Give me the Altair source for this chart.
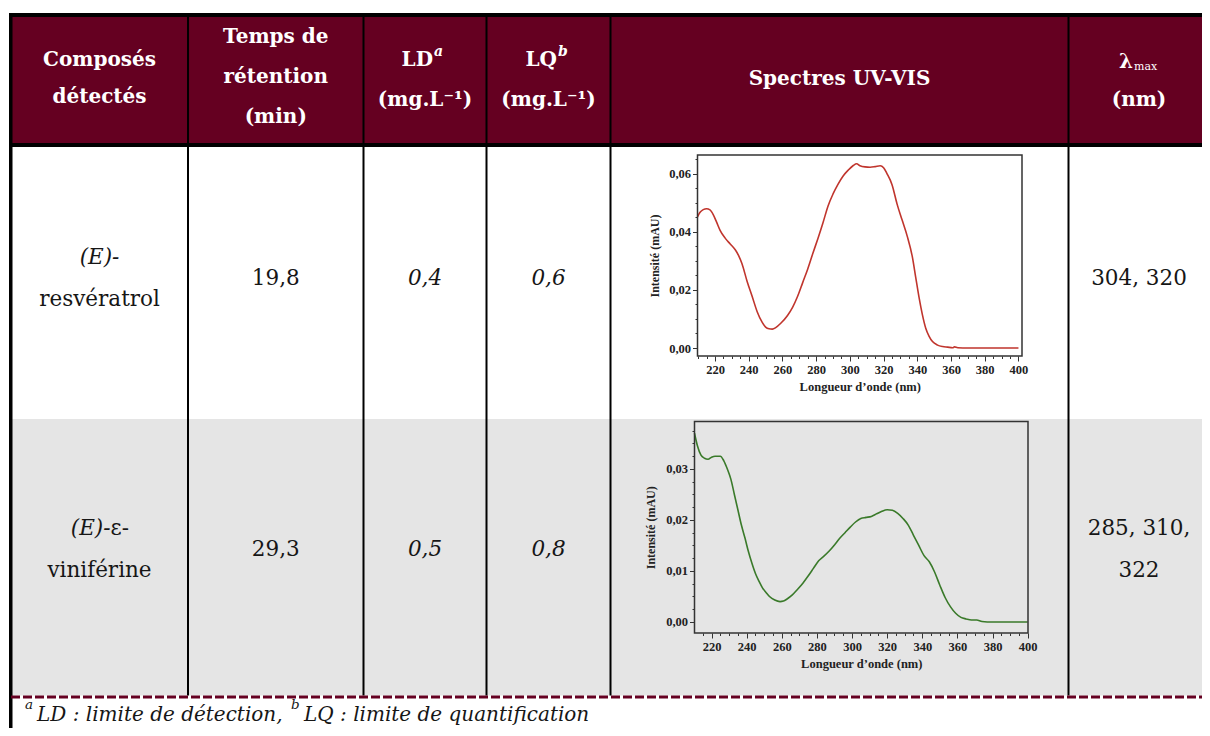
import altair as alt
import pandas as pd

# ---------------- data ----------------
compound_prefix = ["(E)-", "(E)-"]
compound_greek = ["", "ε-"]
compound_name = ["resvératrol", "viniférine"]
retention_min = ["19,8", "29,3"]
ld_values = ["0,4", "0,5"]
lq_values = ["0,6", "0,8"]
lambda_max = [["304, 320"], ["285, 310,", "322"]]

header_col1 = ["Composés", "détectés"]
header_col2 = ["Temps de", "rétention", "(min)"]
header_ld = ["LD", "a"]
header_lq = ["LQ", "b"]
header_units = "(mg.L⁻¹)"
header_spectra = "Spectres UV-VIS"
header_lambda = ["λ", "max", "(nm)"]
footnote_marks = ["a", "b"]
footnote_parts = ["LD : limite de détection,", "LQ : limite de quantification"]

x_title = "Longueur d’onde (nm)"
y_title = "Intensité (mAU)"

# (E)-resvératrol spectrum
res_nm = [209.6, 211, 213, 215, 217, 219, 221, 223, 226, 229, 232, 234, 236, 239, 242, 245, 248, 250,
          252, 254, 256, 259, 263, 266, 269, 272, 275, 278, 281, 284, 287, 290, 293, 296, 299, 302, 304, 306,
          309, 312, 315, 318, 320, 322, 325, 328, 331, 334, 337, 339, 341, 343, 345, 347, 349, 352, 355, 358,
          361, 362, 364, 370, 380, 390, 400]
res_int = [0.0451, 0.0466, 0.0476, 0.0479, 0.0475, 0.0458, 0.0432, 0.0405, 0.0378, 0.0358, 0.0338, 0.0318,
           0.0290, 0.0230, 0.0178, 0.0125, 0.0088, 0.0072, 0.0066, 0.0065, 0.0070, 0.0085, 0.0112, 0.0140,
           0.0178, 0.0225, 0.0272, 0.0325, 0.0376, 0.0430, 0.0488, 0.0530, 0.0564, 0.0592, 0.0612, 0.0628,
           0.0634, 0.0627, 0.0623, 0.0622, 0.0624, 0.0627, 0.0620, 0.0600, 0.0562, 0.0495, 0.0440, 0.0385,
           0.0315, 0.0245, 0.0175, 0.0115, 0.0068, 0.0040, 0.0022, 0.0010, 0.0005, 0.0003, 0.0001, 0.0004,
           0.0001, 0.0, 0.0, 0.0, 0.0]

# (E)-epsilon-viniferine spectrum
vin_nm = [210.3, 212, 214, 216, 218, 220, 222, 225, 227, 229, 231, 233, 235, 237, 239, 241, 243, 245, 247,
          249, 251, 253, 256, 259, 261, 263, 266, 269, 272, 275, 278, 281, 284, 287, 290, 293, 296, 299, 302,
          305, 308, 311, 314, 317, 320, 323, 326, 329, 332, 335, 338, 341, 344, 347, 350, 353, 356, 359, 362,
          365, 368, 371, 374, 380, 390, 400]
vin_int = [0.0370, 0.0345, 0.0327, 0.0321, 0.0319, 0.0323, 0.0325, 0.0325, 0.0316, 0.0300, 0.0280, 0.0250,
           0.0220, 0.0190, 0.0165, 0.0138, 0.0115, 0.0095, 0.0080, 0.0067, 0.0058, 0.0050, 0.0043, 0.0040,
           0.0041, 0.0045, 0.0053, 0.0064, 0.0076, 0.0090, 0.0105, 0.0120, 0.0129, 0.0139, 0.0151, 0.0164,
           0.0175, 0.0186, 0.0196, 0.0203, 0.0205, 0.0207, 0.0212, 0.0217, 0.0220, 0.0219, 0.0213, 0.0203,
           0.0190, 0.0170, 0.0150, 0.0130, 0.0118, 0.0098, 0.0072, 0.0048, 0.0030, 0.0017, 0.0009, 0.0006,
           0.0004, 0.0004, 0.0001, 0.0, 0.0, 0.0]

x_tick_values = list(range(210, 401, 5))
res_y_tick_values = [round(k * 0.005, 4) for k in range(0, 14)]
vin_y_tick_values = [round(k * 0.0025, 5) for k in range(0, 16)]

# ---------------- layout (page pixels) ----------------
W, H = 1194, 720
RIGHT = 8 + W
MAROON = "#650021"
GRAY = "#e5e5e5"
INK = "#161616"
SERIF = "DejaVu Serif"
PLOTFONT = "Liberation Serif"

PX = alt.Scale(domain=[8, 8 + W], range=[0, W], nice=False, zero=False)
PY = alt.Scale(domain=[8, 8 + H], range=[0, H], nice=False, zero=False)

col_lines = [188, 363.5, 486.5, 610.5, 1068.5]
col_centers = [99.5, 275.75, 425, 548.5, 839.5, 1139]
row_mid = [279, 550]
gap = 21


def rect_layer(rows):
    df = pd.DataFrame(rows, columns=["x", "x2", "y", "y2", "c"])
    return alt.Chart(df).mark_rect().encode(
        x=alt.X("x:Q", scale=PX, axis=None), x2="x2:Q",
        y=alt.Y("y:Q", scale=PY, axis=None), y2="y2:Q",
        color=alt.Color("c:N", scale=None),
    )


def rule_layer(rows, **kw):
    df = pd.DataFrame(rows, columns=["x", "x2", "y", "y2", "w"])
    return alt.Chart(df).mark_rule(**kw).encode(
        x=alt.X("x:Q", scale=PX, axis=None), x2="x2:Q",
        y=alt.Y("y:Q", scale=PY, axis=None), y2="y2:Q",
        strokeWidth=alt.StrokeWidth("w:Q", scale=None),
    )


def text_layer(rows, align="center", **kw):
    df = pd.DataFrame(rows, columns=["t", "x", "y"])
    return alt.Chart(df).mark_text(align=align, baseline="middle", **kw).encode(
        x=alt.X("x:Q", scale=PX, axis=None),
        y=alt.Y("y:Q", scale=PY, axis=None),
        text="t:N",
    )


backgrounds = rect_layer([
    [11, RIGHT, 15, 145, MAROON],
    [11, RIGHT, 419, 695.5, GRAY],
])

solid = [[9, RIGHT, 15, 15, 4], [9, RIGHT, 145, 145, 4], [10.75, 10.75, 13, 8 + H, 3.5]]
for cx in col_lines:
    solid.append([cx, cx, 15, 695.5, 2])
lines = rule_layer(solid, color="black")
dashed = rule_layer([[11, RIGHT, 697, 697, 3]], color=MAROON, strokeDash=[9, 3])

# header texts
hdr_center = []
hdr_center += [[t, col_centers[0], 60 + 37 * i] for i, t in enumerate(header_col1)]
hdr_center += [[t, col_centers[1], 37 + 40 * i] for i, t in enumerate(header_col2)]
hdr_center += [[header_units, col_centers[2], 100], [header_units, col_centers[3], 100]]
hdr_center += [[header_spectra, col_centers[4], 79], [header_lambda[2], col_centers[5], 100]]
hdr_bold = text_layer(hdr_center, font=SERIF, fontSize=20, fontWeight="bold", color="white")
hdr_right = text_layer([[header_ld[0], 433, 60], [header_lq[0], 557, 60], [header_lambda[0], 1133, 62]],
                       align="right", font=SERIF, fontSize=20, fontWeight="bold", color="white")
hdr_sup = text_layer([[header_ld[1], 434, 52], [header_lq[1], 558, 52]], align="left",
                     font=SERIF, fontSize=14, fontStyle="italic", fontWeight="bold", color="white")
hdr_sub = text_layer([[header_lambda[1], 1134, 67]], align="left", font=SERIF, fontSize=11, color="white")

# body texts
body_reg, body_ital, body_ital_r, body_reg_l = [], [], [], []
for r in range(2):
    m = row_mid[r]
    if compound_greek[r]:
        body_ital_r.append([compound_prefix[r], 110.5, m - gap])
        body_reg_l.append([compound_greek[r], 110.5, m - gap])
    else:
        body_ital.append([compound_prefix[r], col_centers[0], m - gap])
    body_reg.append([compound_name[r], col_centers[0], m + gap])
    body_reg.append([retention_min[r], col_centers[1], m])
    body_ital.append([ld_values[r], col_centers[2], m])
    body_ital.append([lq_values[r], col_centers[3], m])
    lam = lambda_max[r]
    if len(lam) == 1:
        body_reg.append([lam[0], col_centers[5], m])
    else:
        body_reg.append([lam[0], col_centers[5], m - gap])
        body_reg.append([lam[1], col_centers[5], m + gap])

BODY = 21.5
t_reg = text_layer(body_reg, font=SERIF, fontSize=BODY, color=INK)
t_ital = text_layer(body_ital, font=SERIF, fontSize=BODY, fontStyle="italic", color=INK)
t_ital_r = text_layer(body_ital_r, align="right", font=SERIF, fontSize=BODY, fontStyle="italic", color=INK)
t_reg_l = text_layer(body_reg_l, align="left", font=SERIF, fontSize=BODY, color=INK)

# footnote
foot_main = text_layer([[footnote_parts[0], 37, 715], [footnote_parts[1], 304, 715]], align="left",
                       font=SERIF, fontSize=20, fontStyle="italic", color=INK)
foot_sup = text_layer([[footnote_marks[0], 25, 705], [footnote_marks[1], 291, 705]], align="left",
                      font=SERIF, fontSize=13.5, fontStyle="italic", color=INK)

table = alt.layer(backgrounds, lines, dashed, hdr_bold, hdr_right, hdr_sup, hdr_sub,
                  t_reg, t_ital, t_ital_r, t_reg_l, foot_main, foot_sup)


def spectrum(nm, inten, color, xdom, ydom, xr, yr, yvals, major_test, y_title_pad):
    df = pd.DataFrame({"nm": nm, "i": inten})
    frame = pd.DataFrame({"nm": [xdom[0]], "nm2": [xdom[1]], "i": [ydom[0]], "i2": [ydom[1]]})
    xs = alt.Scale(domain=xdom, range=xr, nice=False, zero=False)
    ys = alt.Scale(domain=ydom, range=yr, nice=False, zero=False)
    xvals = [v for v in x_tick_values if xdom[0] <= v <= xdom[1]]
    xaxis = alt.Axis(
        orient="bottom", offset=yr[0] - H, values=xvals, grid=False, domain=False, zindex=1,
        tickColor="#333", tickWidth=1,
        tickSize={"condition": {"test": "datum.value % 20 === 0", "value": 5}, "value": 2.5},
        labelExpr="datum.value % 20 === 0 ? datum.value + '' : ''",
        labelFont=PLOTFONT, labelFontWeight="bold", labelFontSize=12.5, labelColor="#222",
        labelPadding=2, labelFlush=False, labelOverlap=False,
        title=x_title, titleFont=PLOTFONT, titleFontWeight="bold", titleFontSize=12.5,
        titleColor="#222", titlePadding=5,
    )
    yaxis = alt.Axis(
        orient="left", offset=-xr[0], values=yvals, grid=False, domain=False, zindex=1,
        tickColor="#333", tickWidth=1,
        tickSize={"condition": {"test": major_test, "value": 5}, "value": 2.5},
        labelExpr=major_test + " ? replace(format(datum.value, '.2f'), '.', ',') : ''",
        labelFont=PLOTFONT, labelFontWeight="bold", labelFontSize=12.5, labelColor="#222",
        labelPadding=2, labelFlush=False, labelOverlap=False,
        title=y_title, titleFont=PLOTFONT, titleFontWeight="bold", titleFontSize=12,
        titleColor="#222", titlePadding=y_title_pad,
    )
    line = alt.Chart(df).mark_line(color=color, strokeWidth=1.6, interpolate="monotone").encode(
        x=alt.X("nm:Q", scale=xs, axis=xaxis),
        y=alt.Y("i:Q", scale=ys, axis=yaxis),
    )
    box = alt.Chart(frame).mark_rect(fillOpacity=0, stroke="#333", strokeWidth=1.5).encode(
        x=alt.X("nm:Q", scale=xs, axis=xaxis), x2="nm2:Q",
        y=alt.Y("i:Q", scale=ys, axis=yaxis), y2="i2:Q",
    )
    return alt.layer(line, box)


spec_res = spectrum(res_nm, res_int, "#c0352d", [209.6, 402.1], [-0.00275, 0.0664],
                    [689.5, 1014], [348, 147], res_y_tick_values,
                    "round(datum.value * 1000) % 20 === 0", 7)
spec_vin = spectrum(vin_nm, vin_int, "#3a7a2a", [210.3, 400.2], [-0.00216, 0.0393],
                    [686.5, 1020], [625, 413.5], vin_y_tick_values,
                    "round(datum.value * 10000) % 100 === 0", 8)

chart = alt.layer(table, spec_res, spec_vin).resolve_scale(
    x="independent", y="independent"
).properties(
    width=W, height=H, padding=0, autosize="none", background="white"
).configure_view(strokeWidth=0)

chart.save("out.html", embed_options={"renderer": "svg", "actions": False})
